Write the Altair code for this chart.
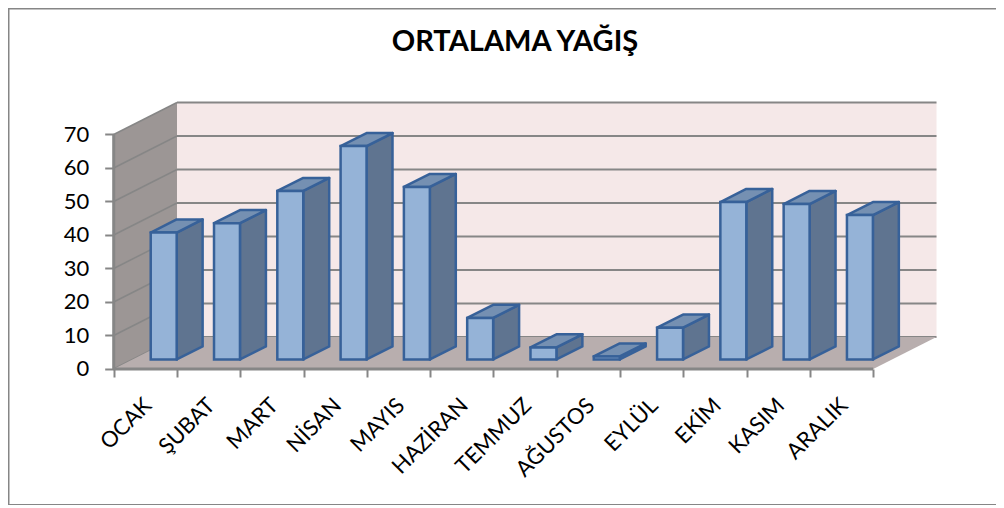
import altair as alt
import pandas as pd

months = ["OCAK", "ŞUBAT", "MART", "NİSAN", "MAYIS", "HAZİRAN", "TEMMUZ", "AĞUSTOS", "EYLÜL", "EKİM", "KASIM", "ARALIK"]
rain = [37.9, 40.7, 50.3, 63.7, 51.5, 12.4, 3.6, 0.9, 9.5, 47.0, 46.4, 43.1]
y_ticks = [0, 10, 20, 30, 40, 50, 60, 70]
x_ticks = list(range(13))

# oblique projection of the 3-D box, in data units (categories, mm)
WALL_DX, WALL_DY = 1.0, 9.55
BAR_LEFT, BAR_W, BAR_BASE = 0.585, 0.41, 2.84
BAR_DX, BAR_DY = 0.41, 3.9
GREY = "#868686"
EDGE = "#376199"

W, H = 988, 497
xs = alt.Scale(domain=[-1.67, 13.94], range=[0, W], nice=False, zero=False)
ys = alt.Scale(domain=[-40.6, 107.76], range=[H, 0], nice=False, zero=False)


def X(f="x"):
    return alt.X(f"{f}:Q", scale=xs, title=None)


def Y(f="y"):
    return alt.Y(f"{f}:Q", scale=ys, title=None)


front, side, top, back_grid, wall_grid, labels = [], [], [], [], [], []
for i, (m, v) in enumerate(zip(months, rain)):
    x0 = i + BAR_LEFT
    x1 = x0 + BAR_W
    t = BAR_BASE + v
    front.append(dict(m=m, x=x0, x2=x1, y=BAR_BASE, y2=t))
    side += [dict(m=m, x=x1, y=BAR_BASE, y2=t),
             dict(m=m, x=x1 + BAR_DX, y=BAR_BASE + BAR_DY, y2=t + BAR_DY)]
    top += [dict(m=m, x=x0, y=t, y2=t),
            dict(m=m, x=x0 + BAR_DX, y=t + BAR_DY, y2=t),
            dict(m=m, x=x1, y=t + BAR_DY, y2=t),
            dict(m=m, x=x1 + BAR_DX, y=t + BAR_DY, y2=t + BAR_DY)]
    labels.append(dict(m=m, x=i + 0.54, y=-9.85))
for g in y_ticks:
    back_grid.append(dict(x=WALL_DX, x2=12 + WALL_DX, y=g + WALL_DY))
    wall_grid.append(dict(x=0, x2=WALL_DX, y=g, y2=g + WALL_DY))

back_wall = pd.DataFrame([dict(x=WALL_DX, x2=12 + WALL_DX, y=WALL_DY, y2=70 + WALL_DY)])
left_wall = pd.DataFrame([dict(x=0, y=0, y2=70), dict(x=WALL_DX, y=WALL_DY, y2=70 + WALL_DY)])
floor = pd.DataFrame([dict(x=0, y=0, y2=0), dict(x=WALL_DX, y=WALL_DY, y2=0),
                      dict(x=12, y=WALL_DY, y2=0), dict(x=12 + WALL_DX, y=WALL_DY, y2=WALL_DY)])

l_back = alt.Chart(back_wall).mark_rect(fill="#f5e8e8").encode(
    x=alt.X("x:Q", scale=xs, title=None,
            axis=alt.Axis(values=x_ticks, labels=False, domain=False, grid=False, ticks=True,
                          tickColor=GREY, tickWidth=2, tickSize=8, offset=-136, orient="bottom")),
    x2="x2:Q",
    y=alt.Y("y:Q", scale=ys, title=None,
            axis=alt.Axis(values=y_ticks, domain=False, grid=False, ticks=True, tickColor=GREY,
                          tickWidth=2, tickSize=9, offset=-105.7, orient="left", labelFont="Lato",
                          labelFontSize=22, labelColor="black", labelPadding=16)),
    y2="y2:Q",
)
l_bgrid = alt.Chart(pd.DataFrame(back_grid)).mark_rule(color=GREY, strokeWidth=2).encode(x=X(), x2="x2:Q", y=Y())
l_wall = alt.Chart(left_wall).mark_area(color="#9c9695", orient="vertical").encode(x=X(), y=Y(), y2="y2:Q")
l_wgrid = alt.Chart(pd.DataFrame(wall_grid)).mark_rule(color=GREY, strokeWidth=1.5).encode(x=X(), x2="x2:Q", y=Y(), y2="y2:Q")
l_floor = alt.Chart(floor).mark_area(color="#b8aeae", orient="vertical").encode(x=X(), y=Y(), y2="y2:Q")
l_yline = alt.Chart(pd.DataFrame([dict(x=0, y=0, y2=70)])).mark_rule(color=GREY, strokeWidth=3).encode(x=X(), y=Y(), y2="y2:Q")
l_xline = alt.Chart(pd.DataFrame([dict(x=0, x2=12, y=0)])).mark_rule(color=GREY, strokeWidth=3).encode(x=X(), x2="x2:Q", y=Y())
l_side = alt.Chart(pd.DataFrame(side)).mark_area(fill="#5f7490", stroke=EDGE, strokeWidth=2.5, strokeJoin="round", orient="vertical").encode(
    x=X(), y=Y(), y2="y2:Q", detail="m:N")
l_top = alt.Chart(pd.DataFrame(top)).mark_area(fill="#7590b2", stroke=EDGE, strokeWidth=2.5, strokeJoin="round", orient="vertical").encode(
    x=X(), y=Y(), y2="y2:Q", detail="m:N")
l_front = alt.Chart(pd.DataFrame(front)).mark_rect(fill="#95b3d7", stroke=EDGE, strokeWidth=2.5).encode(
    x=X(), x2="x2:Q", y=Y(), y2="y2:Q")
l_labels = alt.Chart(pd.DataFrame(labels)).mark_text(
    font="Lato", fontSize=22, angle=315, align="right", baseline="middle", color="black"
).encode(x=X(), y=Y(), text="m:N")

# outer frame of the chart: open on the right, as in the picture
frame_src = alt.Chart(pd.DataFrame([dict(k=0)]))
frame_left = frame_src.mark_rule(color=GREY, strokeWidth=3).encode(x=alt.value(0), y=alt.value(0), y2=alt.value(H))
frame_top = frame_src.mark_rule(color=GREY, strokeWidth=3).encode(x=alt.value(0), x2=alt.value(W), y=alt.value(0))
frame_bottom = frame_src.mark_rule(color=GREY, strokeWidth=2).encode(x=alt.value(0), x2=alt.value(W), y=alt.value(H))

chart = alt.layer(
    l_back, l_bgrid, l_wall, l_wgrid, l_floor, l_yline, l_xline, l_side, l_top, l_front, l_labels,
    frame_left, frame_top, frame_bottom,
).properties(
    width=W, height=H, padding=0, background="white",
    autosize=alt.AutoSizeParams(type="none"),
    title=alt.TitleParams("ORTALAMA YAĞIŞ", font="Lato", fontSize=29, fontWeight="bold", color="black",
                          anchor="middle", offset=-50, dx=13),
).configure_view(stroke=None)

chart.save("out.html", embed_options={"renderer": "svg", "actions": False})
